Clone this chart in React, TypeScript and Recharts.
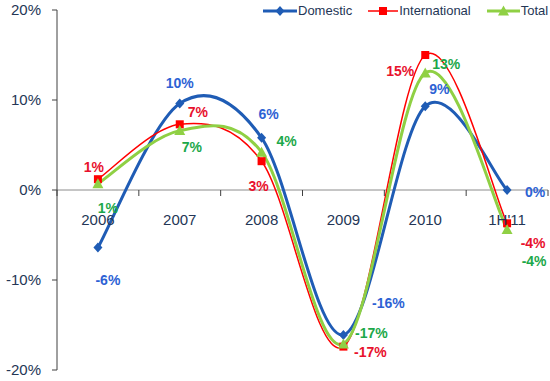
import { LineChart, Line, XAxis, YAxis, ReferenceLine, Legend, LabelList } from 'recharts'

const periods = ['2006', '2007', '2008', '2009', '2010', "1H'11"]
const domestic = [-6.4, 9.6, 5.8, -16.1, 9.3, 0]
const international = [1.2, 7.3, 3.2, -17.4, 15, -3.7]
const total = [0.7, 6.6, 4.2, -17.1, 13, -4.4]
const yTicks = [-20, -10, 0, 10, 20]

// label nudges (dx, dy) per point
const domesticOffsets = [[10, 32], [0, -21], [7, -24], [45, -32], [14, -17], [28, 2]]
const intlOffsets = [[-4, -12], [18, -12], [-3, 25], [27, 5], [-25, 16], [26, 20]]
const totalOffsets = [[10, 24], [12, 16], [25, -11], [28, -11], [21, -9], [27, 31]]

const W = 550
const H = 381
const TOP = 10
const BOTTOM = 10
const X_AXIS_H = 1
const Y_MIN = -20
const Y_MAX = 20
const PLOT_H = H - TOP - BOTTOM - X_AXIS_H
const ZERO_Y = TOP + (PLOT_H * Y_MAX) / (Y_MAX - Y_MIN)
const AXIS_LEFT = 57
const RIGHT = 2
const BAND = (W - AXIS_LEFT - RIGHT) / periods.length

const BLUE = '#1f5cb5'
const BLUE_TXT = '#2d62d4'
const RED = '#ff0000'
const RED_TXT = '#e8112d'
const GREEN = '#8fd044'
const GREEN_TXT = '#1ca84a'
const NAVY = '#243656'
const FONT = '"Liberation Sans", Arial, sans-serif'

const data = periods.map((p, i) => ({
    period: p,
    domestic: domestic[i],
    international: international[i],
    total: total[i]
}))

// Excel-style smoothed line (Catmull-Rom as cubic bezier)
const smoothCurve = (ctx: any) => {
    let pts: number[][] = []
    return {
        areaStart() {},
        areaEnd() {},
        lineStart() {
            pts = []
        },
        point(x: number, y: number) {
            pts.push([+x, +y])
        },
        lineEnd() {
            if (!pts.length) return
            ctx.moveTo(pts[0][0], pts[0][1])
            for (let i = 0; i < pts.length - 1; i++) {
                const p0 = pts[i - 1] || pts[i]
                const p1 = pts[i]
                const p2 = pts[i + 1]
                const p3 = pts[i + 2] || p2
                ctx.bezierCurveTo(
                    p1[0] + (p2[0] - p0[0]) / 6,
                    p1[1] + (p2[1] - p0[1]) / 6,
                    p2[0] - (p3[0] - p1[0]) / 6,
                    p2[1] - (p3[1] - p1[1]) / 6,
                    p2[0],
                    p2[1]
                )
            }
        }
    }
}

const Diamond = ({ cx, cy, fill }: any) => <path d={`M${cx},${cy - 5}L${cx + 4.5},${cy}L${cx},${cy + 5}L${cx - 4.5},${cy}Z`} fill={fill} />
const Square = ({ cx, cy, fill }: any) => <rect x={cx - 4} y={cy - 4} width={8} height={8} fill={fill} />
const Triangle = ({ cx, cy, fill }: any) => <path d={`M${cx},${cy - 5.5}L${cx + 5.5},${cy + 4.5}L${cx - 5.5},${cy + 4.5}Z`} fill={fill} />

const makeLabel = (offsets: number[][], color: string) => (props: any) => {
    const { x, y, value, index } = props
    const [dx, dy] = offsets[index]
    return (
        <text x={x + dx} y={y + dy} textAnchor="middle" dominantBaseline="central" fill={color} fontSize={14} fontWeight="bold" fontFamily={FONT}>
            {`${Math.round(value)}%`}
        </text>
    )
}

const CategoryTick = (props: any) => {
    const { x, payload, index } = props
    return (
        <g>
            <line x1={x + BAND / 2} x2={x + BAND / 2} y1={ZERO_Y} y2={ZERO_Y + 6} stroke="#404040" strokeWidth={1} />
            {index === 0 && <line x1={x - BAND / 2} x2={x - BAND / 2} y1={ZERO_Y} y2={ZERO_Y + 6} stroke="#404040" />}
            <text x={x} y={ZERO_Y + 29} textAnchor="middle" dominantBaseline="central" fill={NAVY} fontSize={15} fontFamily={FONT}>
                {payload.value}
            </text>
        </g>
    )
}

const legendItems = [
    { name: 'Domestic', color: BLUE, width: 3, Marker: Diamond, lineW: 34 },
    { name: 'International', color: RED, width: 1.5, Marker: Square, lineW: 30 },
    { name: 'Total', color: GREEN, width: 3, Marker: Triangle, lineW: 33 }
]

const ChartLegend = () => (
    <div style={{ display: 'flex', alignItems: 'center', fontFamily: FONT, fontSize: 13, color: NAVY }}>
        {legendItems.map((it, i) => (
            <div key={it.name} style={{ display: 'flex', alignItems: 'center', marginLeft: i === 0 ? 0 : 16 }}>
                <svg width={it.lineW} height={12}>
                    <line x1={0} x2={it.lineW} y1={6} y2={6} stroke={it.color} strokeWidth={it.width} />
                    <it.Marker cx={it.lineW / 2} cy={6} fill={it.color} />
                </svg>
                <span style={{ marginLeft: 1 }}>{it.name}</span>
            </div>
        ))}
    </div>
)

export default function App() {
    return (
        <div style={{ position: 'absolute', left: 0, top: 0, width: W, height: H, background: '#fff' }}>
            <LineChart width={W} height={H} data={data} margin={{ top: TOP, right: RIGHT, bottom: BOTTOM, left: 0 }}>
                <XAxis
                    dataKey="period"
                    height={X_AXIS_H}
                    axisLine={false}
                    tickLine={false}
                    tick={<CategoryTick />}
                    interval={0}
                    padding={{ left: BAND / 2, right: BAND / 2 }}
                />
                <YAxis
                    width={AXIS_LEFT}
                    domain={[Y_MIN, Y_MAX]}
                    ticks={yTicks}
                    tickFormatter={v => `${v}%`}
                    axisLine={{ stroke: '#404040' }}
                    tickLine={{ stroke: '#404040' }}
                    tickSize={5}
                    tickMargin={11}
                    tick={{ fill: NAVY, fontSize: 15, fontFamily: FONT }}
                />
                <ReferenceLine y={0} stroke="#8c8c8c" strokeWidth={1} />
                <Legend
                    layout="horizontal"
                    verticalAlign="middle"
                    align="center"
                    content={<ChartLegend />}
                    wrapperStyle={{ top: 3, left: 263, width: 290 }}
                />
                <Line dataKey="domestic" type={smoothCurve as any} stroke={BLUE} strokeWidth={3} dot={<Diamond fill={BLUE} />} activeDot={false} isAnimationActive={false}>
                    <LabelList dataKey="domestic" content={makeLabel(domesticOffsets, BLUE_TXT)} />
                </Line>
                <Line dataKey="international" type={smoothCurve as any} stroke={RED} strokeWidth={1.5} dot={<Square fill={RED} />} activeDot={false} isAnimationActive={false}>
                    <LabelList dataKey="international" content={makeLabel(intlOffsets, RED_TXT)} />
                </Line>
                <Line dataKey="total" type={smoothCurve as any} stroke={GREEN} strokeWidth={3} dot={<Triangle fill={GREEN} />} activeDot={false} isAnimationActive={false}>
                    <LabelList dataKey="total" content={makeLabel(totalOffsets, GREEN_TXT)} />
                </Line>
            </LineChart>
        </div>
    )
}
